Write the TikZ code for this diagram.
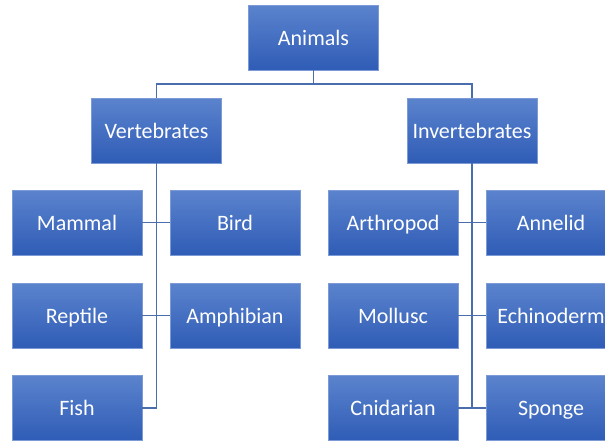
\documentclass[tikz,border=0pt]{standalone}
\usepackage{fontspec}
\setmainfont{Carlito}
\definecolor{boxtop}{HTML}{5B83CD}
\definecolor{boxbot}{HTML}{2F5CB6}
\definecolor{boxedge}{HTML}{7C9BD6}
\definecolor{linkc}{HTML}{4A6DAE}
\begin{document}
\begin{tikzpicture}[x=1pt,y=-1pt,
  box/.style={rectangle, minimum width=130pt, minimum height=65pt, inner sep=0pt,
    text height=16pt, text depth=1pt,
    top color=boxtop, bottom color=boxbot, draw=boxedge, line width=0.6pt,
    text=white, font=\fontsize{22}{24}\selectfont},
  link/.style={draw=linkc, line width=1.4pt}]
\useasboundingbox (0,0) rectangle (605,440);
\clip (0,0) rectangle (605,440);
\node[box] (anim) at (313.5,37.5) {Animals};
\node[box] (vert) at (156.5,130.5) {Vertebrates};
\node[box] (inv) at (472,130.5) {Invertebrates};
\node[box] (mammal) at (77,222.5) {Mammal};
\node[box] (bird) at (235,222.5) {Bird};
\node[box] (reptile) at (77,315.5) {Reptile};
\node[box] (amph) at (235,315.5) {Amphibian};
\node[box] (fish) at (77,408) {Fish};
\node[box] (arth) at (393,222.5) {Arthropod};
\node[box] (ann) at (551,222.5) {Annelid};
\node[box] (moll) at (393,315.5) {Mollusc};
\node[box] (echi) at (551,315.5) {Echinoderm};
\node[box] (cnid) at (393,408) {Cnidarian};
\node[box] (spon) at (551,408) {Sponge};
\coordinate (bar) at (313.5,84);
\draw[link] (anim.south) -- (bar);
\draw[link] (bar) -| (vert.north);
\draw[link] (bar) -| (inv.north);
\draw[link] (vert.south) -- (vert.south |- fish.east) -- (fish.east);
\draw[link] (mammal.east) -- (bird.west);
\draw[link] (reptile.east) -- (amph.west);
\draw[link] (inv.south) -- (inv.south |- cnid.east);
\draw[link] (arth.east) -- (ann.west);
\draw[link] (moll.east) -- (echi.west);
\draw[link] (cnid.east) -- (spon.west);
\end{tikzpicture}
\end{document}
